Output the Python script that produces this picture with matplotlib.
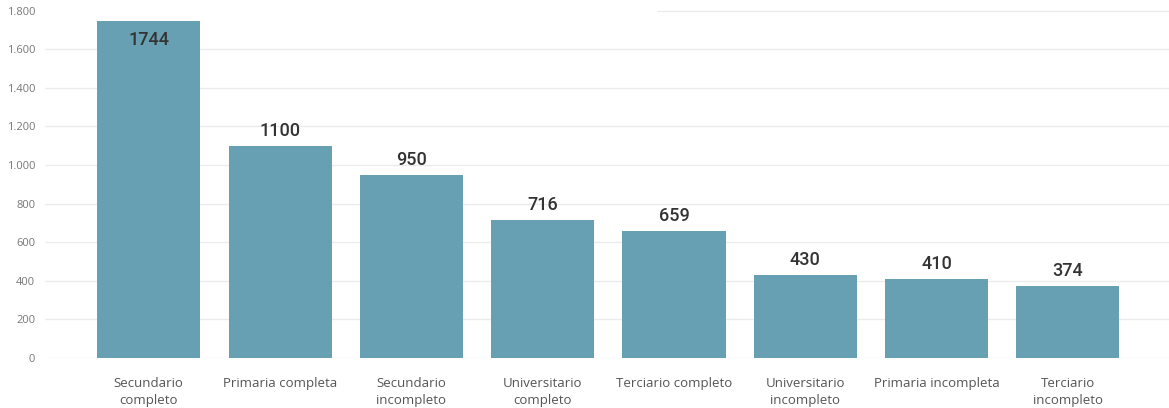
import matplotlib
matplotlib.use("Agg")
import matplotlib.pyplot as plt
from matplotlib.ticker import FuncFormatter

categories = ["Secundario\ncompleto", "Primaria completa", "Secundario\nincompleto",
              "Universitario\ncompleto", "Terciario completo", "Universitario\nincompleto",
              "Primaria incompleta", "Terciario\nincompleto"]
values = [1744, 1100, 950, 716, 659, 430, 410, 374]
yticks = [0, 200, 400, 600, 800, 1000, 1200, 1400, 1600, 1800]

W, H = 1169, 408
fig = plt.figure(figsize=(W / 100, H / 100), dpi=100)
ax = fig.add_axes([45 / W, 50 / H, 1 - 45 / W, 358 / H])

x = list(range(len(categories)))
ax.bar(x, values, width=0.785, color="#66a0b2", zorder=2)
ax.set_xlim(-0.79, 7.77)
ax.set_ylim(0, 1855)

for s in ax.spines.values():
    s.set_visible(False)
ax.set_yticks(yticks)
ax.yaxis.set_major_formatter(FuncFormatter(lambda v, p: f"{int(v):,}".replace(",", ".")))
ax.tick_params(axis="y", length=0, pad=7, labelsize=8, labelcolor="#777777")
ax.tick_params(axis="x", length=0, pad=14, labelsize=9.5, labelcolor="#555555")
for lab in ax.get_yticklabels():
    lab.set_fontfamily("Open Sans")
ax.set_xticks(x)
ax.set_xticklabels(categories, fontfamily="Open Sans", linespacing=1.4)
for t in yticks[:-1]:
    ax.axhline(t, color="#ebebeb", lw=1, zorder=1)
ax.axhline(yticks[-1], xmin=(658 - 45) / (W - 45), xmax=1, color="#ebebeb", lw=1, zorder=1)

for xi, v in zip(x, values):
    if v + 130 > 1855:
        ax.text(xi, v - 95, str(v), ha="center", va="center", fontsize=13,
                color="#333333", fontfamily="Roboto", fontweight="medium", zorder=3)
    else:
        ax.text(xi, v + 78, str(v), ha="center", va="center", fontsize=13,
                color="#333333", fontfamily="Roboto", fontweight="medium", zorder=3)

fig.savefig("out.png", dpi=100, facecolor="white")
